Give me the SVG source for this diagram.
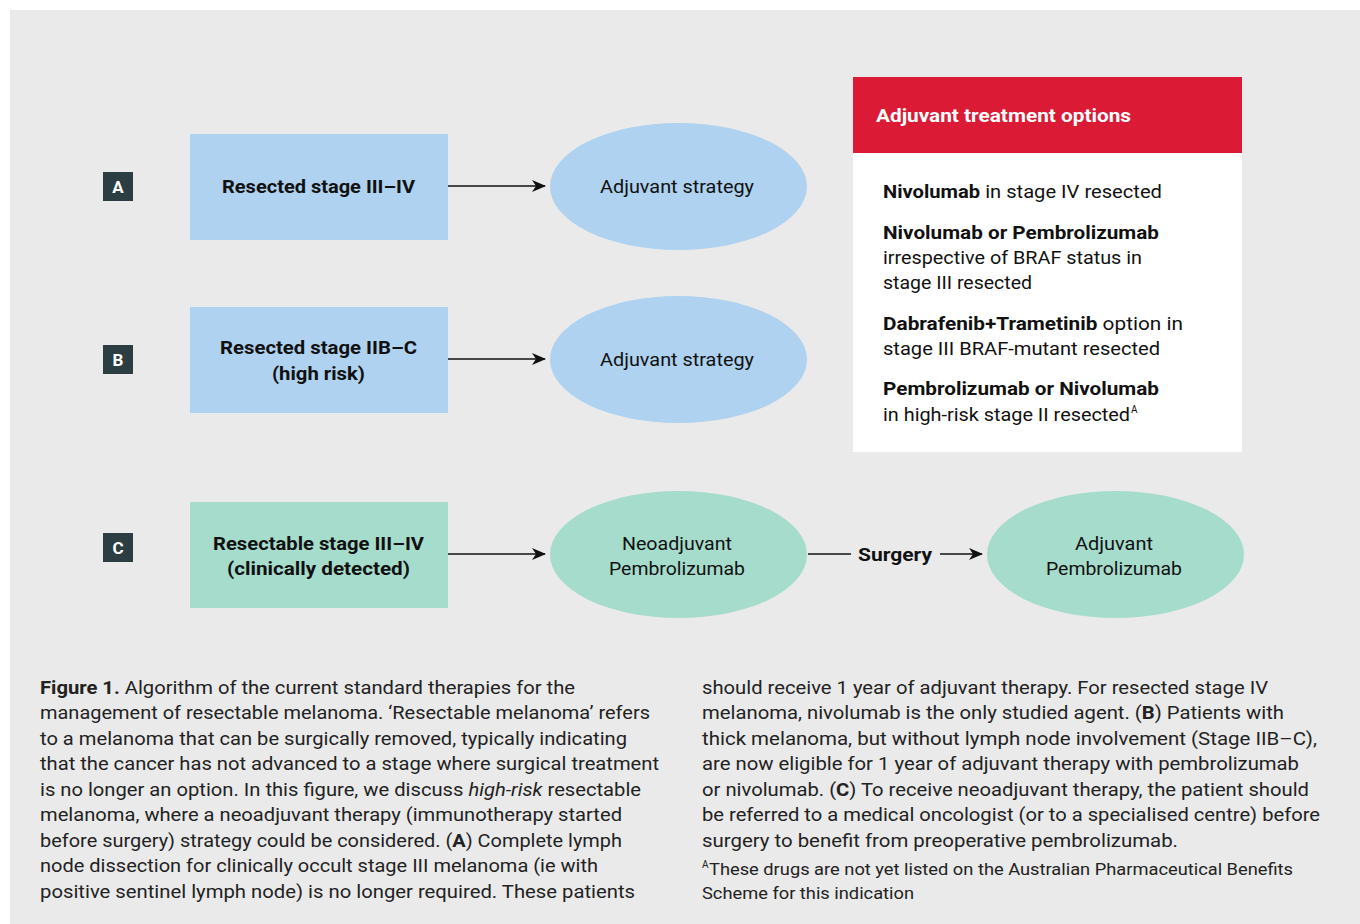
<svg xmlns="http://www.w3.org/2000/svg" width="1360" height="924" viewBox="0 0 1360 924">
<style>
.node{font-family:Roboto,"Liberation Sans",sans-serif;fill:#111;}
.b{font-weight:bold;}
.lbl{font-family:Roboto,"Liberation Sans",sans-serif;font-weight:bold;font-size:17px;fill:#fff;}
.box{font-family:Roboto,"Liberation Sans",sans-serif;font-size:18px;fill:#111;}
.cap{font-family:Roboto,"Liberation Sans",sans-serif;font-size:19px;fill:#222;}
.fn{font-family:Roboto,"Liberation Sans",sans-serif;font-size:17px;fill:#222;}
.sup{font-family:Roboto,"Liberation Sans",sans-serif;font-size:10px;fill:#222;}
.conn{stroke:#111;stroke-width:1.6;fill:none;}
</style>
<defs>
<marker id="arr" markerUnits="userSpaceOnUse" markerWidth="14" markerHeight="12" refX="13" refY="6" orient="auto">
<path d="M0,0 L14,6 L0,12 L4,6 z" fill="#111"/>
</marker>
</defs>
<rect x="10" y="10" width="1350" height="914" fill="#eaeaea"/>

<g id="labelA"><rect x="103" y="172" width="30" height="29" fill="#2c3e42"/><text class="lbl" x="118" y="193" text-anchor="middle">A</text></g>
<g id="labelB"><rect x="103" y="345" width="30" height="29" fill="#2c3e42"/><text class="lbl" x="118" y="366" text-anchor="middle">B</text></g>
<g id="labelC"><rect x="103" y="533" width="30" height="29" fill="#2c3e42"/><text class="lbl" x="118" y="554" text-anchor="middle">C</text></g>

<g id="rectA"><rect x="190" y="134" width="258" height="106" fill="#aed2ef"/>
<text class="node b" font-size="18" x="318.5" y="193" text-anchor="middle" textLength="193" lengthAdjust="spacingAndGlyphs">Resected stage III–IV</text></g>
<g id="rectB"><rect x="190" y="307" width="258" height="106" fill="#aed2ef"/>
<text class="node b" font-size="18" x="318.5" y="354" text-anchor="middle" textLength="197" lengthAdjust="spacingAndGlyphs">Resected stage IIB–C</text>
<text class="node b" font-size="18" x="318.5" y="380" text-anchor="middle" textLength="93" lengthAdjust="spacingAndGlyphs">(high risk)</text></g>
<g id="rectC"><rect x="190" y="502" width="258" height="106" fill="#a6dccc"/>
<text class="node b" font-size="18" x="318.5" y="550" text-anchor="middle" textLength="211" lengthAdjust="spacingAndGlyphs">Resectable stage III–IV</text>
<text class="node b" font-size="18" x="318.5" y="575" text-anchor="middle" textLength="183" lengthAdjust="spacingAndGlyphs">(clinically detected)</text></g>

<g id="ellA"><ellipse cx="678.5" cy="186.5" rx="128.5" ry="63.5" fill="#aed2ef"/>
<text class="node" font-size="18" x="677" y="193" text-anchor="middle" textLength="154" lengthAdjust="spacingAndGlyphs">Adjuvant strategy</text></g>
<g id="ellB"><ellipse cx="678.5" cy="359.5" rx="128.5" ry="63.5" fill="#aed2ef"/>
<text class="node" font-size="18" x="677" y="366" text-anchor="middle" textLength="154" lengthAdjust="spacingAndGlyphs">Adjuvant strategy</text></g>
<g id="ellC1"><ellipse cx="678.5" cy="554.5" rx="128.5" ry="63.5" fill="#a6dccc"/>
<text class="node" font-size="18" x="677" y="550" text-anchor="middle" textLength="110" lengthAdjust="spacingAndGlyphs">Neoadjuvant</text>
<text class="node" font-size="18" x="677" y="575" text-anchor="middle" textLength="136" lengthAdjust="spacingAndGlyphs">Pembrolizumab</text></g>
<g id="ellC2"><ellipse cx="1115.5" cy="554.5" rx="128.5" ry="63.5" fill="#a6dccc"/>
<text class="node" font-size="18" x="1114" y="550" text-anchor="middle" textLength="78" lengthAdjust="spacingAndGlyphs">Adjuvant</text>
<text class="node" font-size="18" x="1114" y="575" text-anchor="middle" textLength="136" lengthAdjust="spacingAndGlyphs">Pembrolizumab</text></g>

<g id="connectors">
<line class="conn" x1="448" y1="186" x2="545" y2="186" marker-end="url(#arr)"/>
<line class="conn" x1="448" y1="359" x2="545" y2="359" marker-end="url(#arr)"/>
<line class="conn" x1="448" y1="554" x2="545" y2="554" marker-end="url(#arr)"/>
<line class="conn" x1="808" y1="554" x2="851" y2="554"/>
<line class="conn" x1="940" y1="554" x2="982" y2="554" marker-end="url(#arr)"/>
<text class="node b" font-size="18" x="858" y="561" textLength="74" lengthAdjust="spacingAndGlyphs">Surgery</text>
</g>

<g id="optionsBox">
<rect x="853" y="77" width="389" height="76" fill="#db1a35"/>
<rect x="853" y="153" width="389" height="299" fill="#ffffff"/>
<text class="box b" style="fill:#fff" x="876" y="122" textLength="255" lengthAdjust="spacingAndGlyphs">Adjuvant treatment options</text>
<text class="box" x="883" y="198" textLength="279" lengthAdjust="spacingAndGlyphs"><tspan class="b">Nivolumab</tspan> in stage IV resected</text>
<text class="box b" x="883" y="239" textLength="276" lengthAdjust="spacingAndGlyphs">Nivolumab or Pembrolizumab</text>
<text class="box" x="883" y="264" textLength="259" lengthAdjust="spacingAndGlyphs">irrespective of BRAF status in</text>
<text class="box" x="883" y="289" textLength="149" lengthAdjust="spacingAndGlyphs">stage III resected</text>
<text class="box" x="883" y="330" textLength="300" lengthAdjust="spacingAndGlyphs"><tspan class="b">Dabrafenib+Trametinib</tspan> option in</text>
<text class="box" x="883" y="355" textLength="277" lengthAdjust="spacingAndGlyphs">stage III BRAF-mutant resected</text>
<text class="box b" x="883" y="395" textLength="276" lengthAdjust="spacingAndGlyphs">Pembrolizumab or Nivolumab</text>
<text class="box" x="883" y="421" textLength="247" lengthAdjust="spacingAndGlyphs">in high-risk stage II resected</text>
<text class="sup" style="fill:#111" x="1131" y="413">A</text>
</g>

<g id="caption">
<text class="cap" x="40" y="694" textLength="535" lengthAdjust="spacingAndGlyphs"><tspan font-weight="bold">Figure 1.</tspan> Algorithm of the current standard therapies for the</text>
<text class="cap" x="40" y="719" textLength="610" lengthAdjust="spacingAndGlyphs">management of resectable melanoma. ‘Resectable melanoma’ refers</text>
<text class="cap" x="40" y="745" textLength="587" lengthAdjust="spacingAndGlyphs">to a melanoma that can be surgically removed, typically indicating</text>
<text class="cap" x="40" y="770" textLength="619" lengthAdjust="spacingAndGlyphs">that the cancer has not advanced to a stage where surgical treatment</text>
<text class="cap" x="40" y="796" textLength="601" lengthAdjust="spacingAndGlyphs">is no longer an option. In this figure, we discuss <tspan font-style="italic">high-risk</tspan> resectable</text>
<text class="cap" x="40" y="821" textLength="582" lengthAdjust="spacingAndGlyphs">melanoma, where a neoadjuvant therapy (immunotherapy started</text>
<text class="cap" x="40" y="847" textLength="582" lengthAdjust="spacingAndGlyphs">before surgery) strategy could be considered. (<tspan font-weight="bold">A</tspan>) Complete lymph</text>
<text class="cap" x="40" y="872" textLength="558" lengthAdjust="spacingAndGlyphs">node dissection for clinically occult stage III melanoma (ie with</text>
<text class="cap" x="40" y="898" textLength="595" lengthAdjust="spacingAndGlyphs">positive sentinel lymph node) is no longer required. These patients</text>

<text class="cap" x="702" y="694" textLength="566" lengthAdjust="spacingAndGlyphs">should receive 1 year of adjuvant therapy. For resected stage IV</text>
<text class="cap" x="702" y="719" textLength="582" lengthAdjust="spacingAndGlyphs">melanoma, nivolumab is the only studied agent. (<tspan font-weight="bold">B</tspan>) Patients with</text>
<text class="cap" x="702" y="745" textLength="615" lengthAdjust="spacingAndGlyphs">thick melanoma, but without lymph node involvement (Stage IIB–C),</text>
<text class="cap" x="702" y="770" textLength="597" lengthAdjust="spacingAndGlyphs">are now eligible for 1 year of adjuvant therapy with pembrolizumab</text>
<text class="cap" x="702" y="796" textLength="607" lengthAdjust="spacingAndGlyphs">or nivolumab. (<tspan font-weight="bold">C</tspan>) To receive neoadjuvant therapy, the patient should</text>
<text class="cap" x="702" y="821" textLength="618" lengthAdjust="spacingAndGlyphs">be referred to a medical oncologist (or to a specialised centre) before</text>
<text class="cap" x="702" y="847" textLength="476" lengthAdjust="spacingAndGlyphs">surgery to benefit from preoperative pembrolizumab.</text>
<text class="sup" x="702" y="868">A</text>
<text class="fn" x="709" y="875" textLength="584" lengthAdjust="spacingAndGlyphs">These drugs are not yet listed on the Australian Pharmaceutical Benefits</text>
<text class="fn" x="702" y="899" textLength="212" lengthAdjust="spacingAndGlyphs">Scheme for this indication</text>
</g>
</svg>
